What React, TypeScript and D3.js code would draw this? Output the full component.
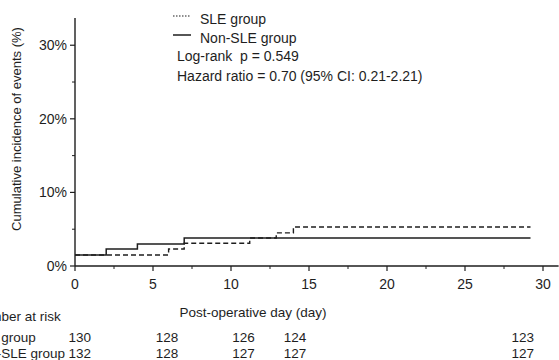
import React from 'react';
import * as d3 from 'd3';

// step curves (day, cumulative %)
const sleDays = [0, 6, 7, 11.2, 12.9, 14, 29.2];
const sleValues = [1.5, 2.3, 3.1, 3.8, 4.5, 5.3, 5.3];
const nonSleDays = [0, 2, 4, 7, 29.2];
const nonSleValues = [1.5, 2.3, 3.0, 3.8, 3.8];

const xTicks = [0, 5, 10, 15, 20, 25, 30];
const xMinorTicks = [2.5, 7.5, 12.5, 17.5, 22.5, 27.5];
const yTicks = [0, 10, 20, 30];
const yMinorTicks = [5, 15, 25];

const riskGroups = ['SLE group', 'Non-SLE group'];
const riskDays = [0.3, 5.9, 10.8, 14.1, 28.7];
const riskSle = [130, 128, 126, 124, 123];
const riskNonSle = [132, 128, 127, 127, 127];

const legendLines = ['Log-rank  p = 0.549', 'Hazard ratio = 0.70 (95% CI: 0.21-2.21)'];

const W = 559;
const H = 360;
const font = '"Liberation Sans", Arial, sans-serif';
const ink = '#1e1e1e';

export default function App() {
	const x = d3.scaleLinear().domain([0, 31]).range([75, 558.6]);
	const y = d3.scaleLinear().domain([0, 33.7]).range([266, 18]);

	const step = d3
		.line<[number, number]>()
		.x(d => x(d[0]))
		.y(d => y(d[1]))
		.curve(d3.curveStepAfter);

	const slePath = step(sleDays.map((d, i) => [d, sleValues[i]]));
	const nonSlePath = step(nonSleDays.map((d, i) => [d, nonSleValues[i]]));

	const riskRows = [riskSle, riskNonSle];

	return (
		<svg
			width={W}
			height={H}
			style={{ position: 'absolute', left: 0, top: 0, background: '#fff' }}
			fontFamily={font}
			fill={ink}
		>
			{/* axes */}
			<line x1={x(0)} x2={x(0)} y1={y(33.7)} y2={y(0)} stroke={ink} strokeWidth={1.4} />
			<line x1={x(0)} x2={x(31)} y1={y(0)} y2={y(0)} stroke={ink} strokeWidth={1.4} />
			{yTicks.map(t => (
				<g key={'y' + t}>
					<line x1={x(0) - 5} x2={x(0)} y1={y(t)} y2={y(t)} stroke={ink} strokeWidth={1.2} />
					<text x={67} y={y(t) + 5} textAnchor="end" fontSize={14}>
						{t}%
					</text>
				</g>
			))}
			{yMinorTicks.map(t => (
				<line key={'ym' + t} x1={x(0) - 3} x2={x(0)} y1={y(t)} y2={y(t)} stroke={ink} strokeWidth={1} />
			))}
			{xTicks.map(t => (
				<g key={'x' + t}>
					<line x1={x(t)} x2={x(t)} y1={y(0)} y2={y(0) + 5} stroke={ink} strokeWidth={1.2} />
					<text x={x(t)} y={289} textAnchor="middle" fontSize={14}>
						{t}
					</text>
				</g>
			))}
			{xMinorTicks.map(t => (
				<line key={'xm' + t} x1={x(t)} x2={x(t)} y1={y(0)} y2={y(0) + 3} stroke={ink} strokeWidth={1} />
			))}

			{/* curves */}
			<path d={nonSlePath || ''} fill="none" stroke={ink} strokeWidth={1.5} />
			<path d={slePath || ''} fill="none" stroke={ink} strokeWidth={1.4} strokeDasharray="5,3" />

			{/* axis titles */}
			<text transform={`translate(21, 129) rotate(-90)`} textAnchor="middle" fontSize={13}>
				Cumulative incidence of events (%)
			</text>
			<text x={253} y={317} textAnchor="middle" fontSize={13.5}>
				Post-operative day (day)
			</text>

			{/* legend */}
			<line x1={173} x2={191} y1={16} y2={16} stroke={ink} strokeWidth={1.2} strokeDasharray="1.5,1.5" />
			<text x={200} y={24} fontSize={14}>
				{riskGroups[0]}
			</text>
			<line x1={173} x2={191} y1={35} y2={35} stroke={ink} strokeWidth={1.5} />
			<text x={200} y={43} fontSize={14}>
				{riskGroups[1]}
			</text>
			{legendLines.map((l, i) => (
				<text key={l} x={177} y={61 + i * 20} fontSize={14} style={{ whiteSpace: 'pre' }}>
					{l}
				</text>
			))}

			{/* number at risk */}
			<text x={-27} y={321} fontSize={13.5}>
				Number at risk
			</text>
			{riskGroups.map((g, r) => (
				<g key={g}>
					<text x={-28} y={342 + r * 16} fontSize={13.5}>
						{g}
					</text>
					{riskRows[r].map((v, i) => (
						<text key={i} x={x(riskDays[i])} y={342 + r * 16} textAnchor="middle" fontSize={13.5}>
							{v}
						</text>
					))}
				</g>
			))}
		</svg>
	);
}
